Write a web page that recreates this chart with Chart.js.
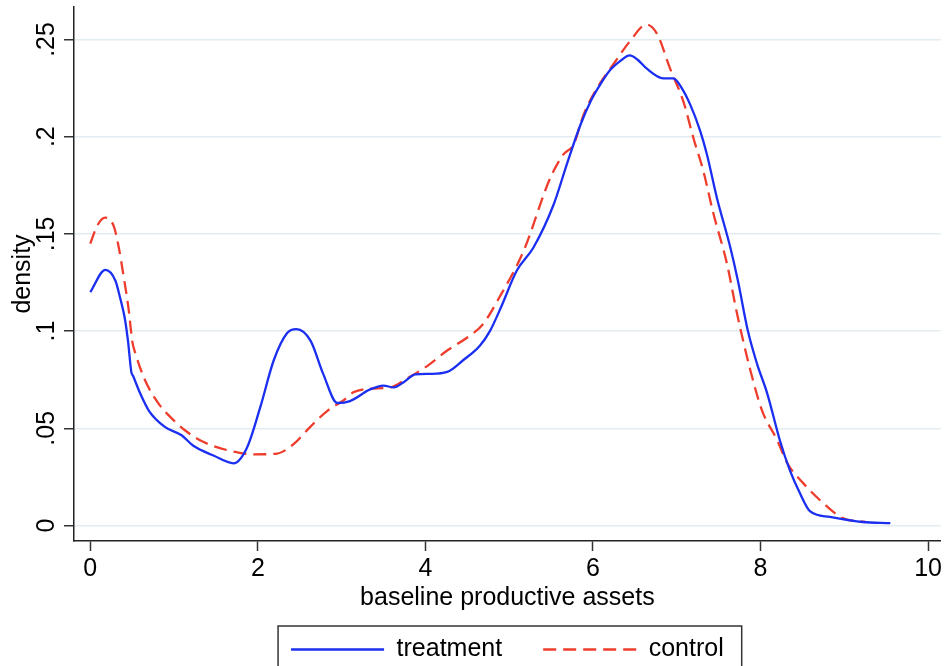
<!DOCTYPE html>
<html>
<head>
<meta charset="utf-8">
<script src="https://cdn.jsdelivr.net/npm/chart.js@4/dist/chart.umd.min.js"></script>
<style>
html,body{margin:0;padding:0;background:#fff;overflow:hidden;}
#wrap{width:945px;height:672px;}
</style>
</head>
<body>
<div id="wrap"><canvas id="c" width="945" height="672"></canvas></div>
<script>
// ---- data ----
const treatmentX = [0, 0.18, 0.30, 0.355, 0.41, 0.45, 0.49, 0.51, 0.595, 0.70, 0.89, 1.09, 1.23, 1.47, 1.71, 1.87, 2.03, 2.19, 2.35, 2.46, 2.63, 2.78, 2.95, 3.10, 3.34, 3.50, 3.62, 3.74, 3.88, 4.06, 4.26, 4.45, 4.65, 4.77, 4.90, 5.09, 5.29, 5.53, 5.69, 5.85, 5.97, 6.09, 6.21, 6.32, 6.44, 6.53, 6.64, 6.84, 6.96, 7.06, 7.16, 7.28, 7.36, 7.48, 7.64, 7.73, 7.85, 7.96, 8.08, 8.23, 8.35, 8.47, 8.59, 8.83, 9.22, 9.55];
const treatmentY = [0.120, 0.1315, 0.1259, 0.1173, 0.107, 0.095, 0.0789, 0.077, 0.068, 0.059, 0.0507, 0.0464, 0.041, 0.036, 0.032, 0.040, 0.061, 0.085, 0.099, 0.101, 0.095, 0.078, 0.063, 0.064, 0.070, 0.072, 0.071, 0.0737, 0.0777, 0.078, 0.079, 0.085, 0.0925, 0.100, 0.112, 0.131, 0.143, 0.165, 0.186, 0.206, 0.218, 0.227, 0.2345, 0.2387, 0.2418, 0.2397, 0.2351, 0.230, 0.230, 0.225, 0.2166, 0.203, 0.191, 0.1685, 0.143, 0.126, 0.100, 0.083, 0.068, 0.044, 0.0285, 0.0167, 0.0074, 0.0044, 0.0018, 0.0012];
const controlX = [0, 0.08, 0.175, 0.28, 0.34, 0.40, 0.46, 0.50, 0.54, 0.655, 0.815, 0.975, 1.13, 1.31, 1.51, 1.75, 1.95, 2.23, 2.43, 2.62, 2.83, 3.02, 3.14, 3.34, 3.58, 3.78, 4.02, 4.26, 4.50, 4.69, 4.86, 5.17, 5.49, 5.65, 5.77, 5.89, 6.05, 6.24, 6.44, 6.64, 6.77, 6.92, 7.08, 7.20, 7.32, 7.43, 7.60, 7.72, 7.88, 8.02, 8.20, 8.32, 8.51, 8.75, 8.98, 9.25];
const controlY = [0.145, 0.154, 0.1584, 0.154, 0.143, 0.1276, 0.1105, 0.095, 0.0883, 0.0746, 0.0627, 0.055, 0.049, 0.0438, 0.0403, 0.0377, 0.0366, 0.037, 0.042, 0.0505, 0.059, 0.0643, 0.0685, 0.0704, 0.071, 0.0756, 0.082, 0.090, 0.0967, 0.1037, 0.1156, 0.141, 0.1787, 0.191, 0.196, 0.2115, 0.225, 0.237, 0.249, 0.2577, 0.2525, 0.2351, 0.218, 0.1992, 0.182, 0.1618, 0.1346, 0.109, 0.0797, 0.059, 0.0438, 0.0320, 0.0218, 0.0115, 0.0038, 0.0018];
const seriesNames = ["treatment", "control"];
const xTickValues = [0, 2, 4, 6, 8, 10];
const yTickValues = [0, 0.05, 0.10, 0.15, 0.20, 0.25];
const yTickLabels = ["0", ".05", ".1", ".15", ".2", ".25"];
const xTitle = "baseline productive assets";
const yTitle = "density";

const FONT = "'Liberation Sans', Arial, Helvetica, sans-serif";
const FS = 25;

function pts(xs, ys){ return xs.map((x,i)=>({x:x, y:ys[i]})); }

const yLabelPlugin = {
  id: 'yLabels',
  afterDraw(chart){
    const s = chart.scales.y; const ctx = chart.ctx;
    ctx.save();
    ctx.fillStyle = '#000';
    ctx.font = FS + 'px ' + FONT;
    ctx.textAlign = 'center';
    ctx.textBaseline = 'alphabetic';
    yTickValues.forEach((v,i)=>{
      const py = s.getPixelForValue(v);
      ctx.save();
      ctx.translate(54, py);
      ctx.rotate(-Math.PI/2);
      ctx.fillText(yTickLabels[i], 0, 0);
      ctx.restore();
    });
    ctx.restore();
  }
};
const legendBoxPlugin = {
  id: 'legendBox',
  afterDraw(chart){
    const lg = chart.legend; if(!lg || !lg.legendHitBoxes || !lg.legendHitBoxes.length) return;
    const hb = lg.legendHitBoxes; const first = hb[0], last = hb[hb.length-1];
    const ctx = chart.ctx;
    const cy = first.top + first.height/2;
    const l = first.left - 13, r = last.left + last.width + 18, t = cy - 23.5;
    ctx.save();
    ctx.strokeStyle = '#333'; ctx.lineWidth = 1.5;
    ctx.strokeRect(l, t, r - l, 80);
    ctx.restore();
  }
};

new Chart(document.getElementById('c'), {
  type: 'line',
  data: {
    datasets: [
      { label: seriesNames[0], data: pts(treatmentX, treatmentY), borderColor: '#1a2ff0', backgroundColor: '#1a2ff0', borderWidth: 2.3, pointRadius: 0, cubicInterpolationMode: 'monotone', fill: false },
      { label: seriesNames[1], data: pts(controlX, controlY), borderColor: '#ee3d2c', backgroundColor: '#ee3d2c', borderWidth: 2.3, borderDash: [13, 7], pointRadius: 0, cubicInterpolationMode: 'monotone', fill: false }
    ]
  },
  options: {
    responsive: false,
    animation: false,
    devicePixelRatio: 1,
    layout: { padding: { left: 0, right: 4, top: 7, bottom: 0 } },
    plugins: {
      tooltip: { enabled: false },
      legend: {
        position: 'bottom',
        fullSize: false,
        labels: {
          usePointStyle: true,
          pointStyle: 'line',
          pointStyleWidth: 93,
          padding: 41,
          color: '#000',
          font: { family: FONT, size: FS },
          generateLabels(chart){
            const items = Chart.defaults.plugins.legend.labels.generateLabels(chart);
            items.forEach(it=>{
              const ds = chart.data.datasets[it.datasetIndex];
              it.lineDash = ds.borderDash || [];
              it.lineWidth = ds.borderWidth;
              it.strokeStyle = ds.borderColor;
              it.fillStyle = ds.borderColor;
              it.pointStyle = 'line';
            });
            return items;
          }
        }
      }
    },
    scales: {
      x: {
        type: 'linear',
        min: -0.1945, max: 10.152,
        afterBuildTicks(s){ s.ticks = xTickValues.map(v=>({value:v})); },
        afterFit(s){ s.height = 55; },
        grid: { drawOnChartArea: false, tickLength: 10, tickColor: '#333', tickWidth: 1.5 },
        border: { color: '#222', width: 1.5 },
        ticks: { color: '#000', padding: 3, maxRotation: 0, font: { family: FONT, size: FS }, callback: v => String(v) },
        title: { display: true, text: xTitle, color: '#000', font: { family: FONT, size: FS }, padding: { top: 0, bottom: -17.6 } }
      },
      y: {
        type: 'linear',
        min: -0.00797, max: 0.2667,
        afterBuildTicks(s){ s.ticks = yTickValues.map(v=>({value:v})); },
        afterFit(s){ s.width = 74; },
        grid: { color: '#e3ecf0', lineWidth: 1.5, tickLength: 10, tickColor: '#333', tickWidth: 1.5 },
        border: { color: '#222', width: 1.5 },
        ticks: { display: false },
        title: { display: true, text: yTitle, color: '#000', font: { family: FONT, size: FS }, padding: { top: 8, bottom: 0 } }
      }
    }
  },
  plugins: [yLabelPlugin, legendBoxPlugin]
});
</script>
</body>
</html>
